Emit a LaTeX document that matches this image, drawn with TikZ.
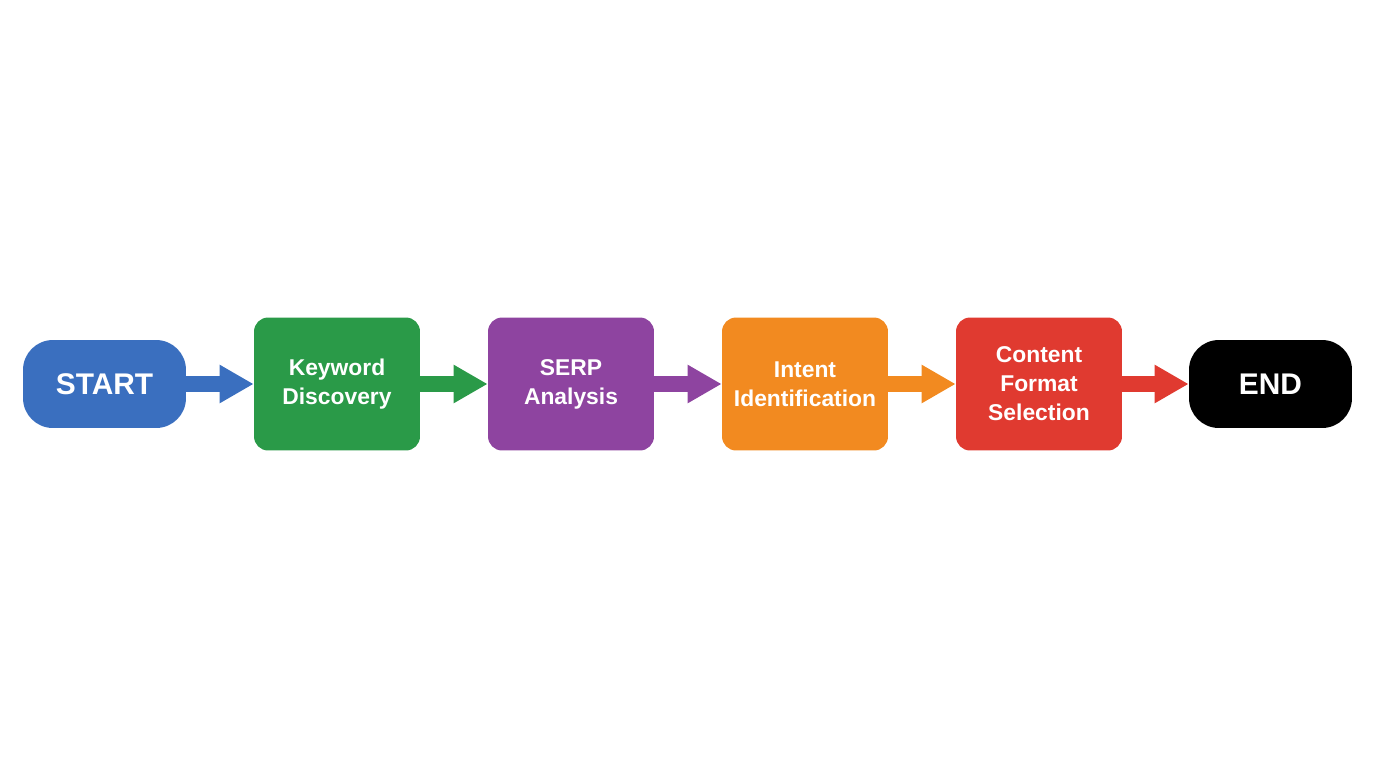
\documentclass[tikz,border=0pt]{standalone}
\usepackage{fontspec}
\setmainfont{Liberation Sans}
\usetikzlibrary{arrows.meta}
\definecolor{cb}{HTML}{3A6FBF}
\definecolor{cg}{HTML}{2A9A48}
\definecolor{cp}{HTML}{8E44A0}
\definecolor{co}{HTML}{F28A20}
\definecolor{cr}{HTML}{E03A30}
\begin{document}
\begin{tikzpicture}[x=0.02cm,y=-0.02cm,
 box/.style={fill=#1,rounded corners=8pt,minimum width=3.32cm,minimum height=2.66cm,text=white,font=\fontsize{13}{16.5}\selectfont\bfseries,align=center,inner sep=0pt},
 pill/.style={fill=#1,rounded corners=17pt,minimum width=3.26cm,minimum height=1.76cm,text=white,font=\fontsize{17}{20}\selectfont\bfseries,inner sep=0pt},
 arr/.style={draw=#1,line width=0.32cm,-{Triangle[length=0.68cm,width=0.72cm]},shorten <=-1pt}]
\useasboundingbox (0,0) rectangle (1376,768);
\node[pill=cb] (s) at (104.5,384) {START};
\node[box=cg] (k) at (337,384) {Keyword\\Discovery};
\node[box=cp] (a) at (571,384) {SERP\\Analysis};
\node[box=co] (i) at (805,384) {Intent\\Identification};
\node[box=cr] (c) at (1039,384) {Content\\Format\\Selection};
\node[pill=black] (e) at (1270.5,384) {END};
\draw[arr=cb] (s) -- (k);
\draw[arr=cg] (k) -- (a);
\draw[arr=cp] (a) -- (i);
\draw[arr=co] (i) -- (c);
\draw[arr=cr] (c) -- (e);
\end{tikzpicture}
\end{document}
